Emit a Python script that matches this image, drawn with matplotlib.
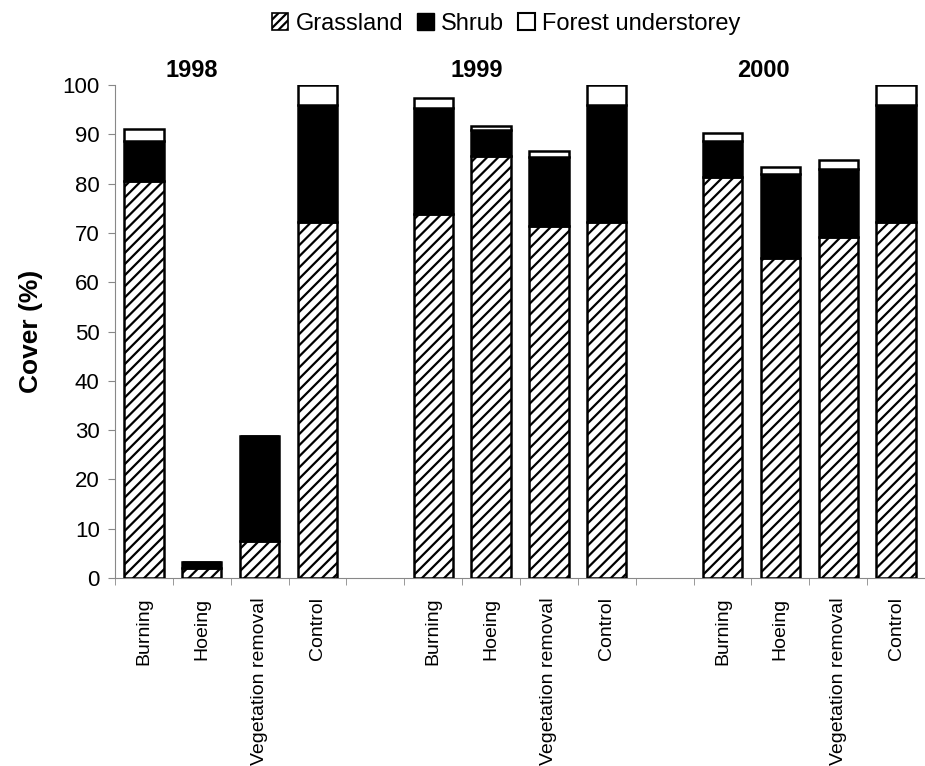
import numpy as np
import matplotlib
matplotlib.use("Agg")
import matplotlib.pyplot as plt
from matplotlib.patches import Patch

plt.rcParams['font.family'] = ['Liberation Sans', 'DejaVu Sans']
plt.rcParams['hatch.linewidth'] = 1.6

# data
years = ['1998', '1999', '2000']
treatments = ['Burning', 'Hoeing', 'Vegetation removal', 'Control']
grassland = [80.5, 2.1, 7.5, 72.3,
             73.8, 85.6, 71.5, 72.3,
             81.3, 65.0, 69.2, 72.3]
shrub = [8.1, 1.1, 21.3, 23.7,
         21.5, 5.3, 13.8, 23.7,
         7.3, 16.9, 13.8, 23.7]
forest = [2.5, 0.0, 0.0, 4.0,
          2.1, 0.8, 1.4, 4.0,
          1.6, 1.4, 1.8, 4.0]

# one empty slot between years
pos = []
for g in range(len(years)):
    for i in range(len(treatments)):
        pos.append(g * (len(treatments) + 1) + i)
pos = np.array(pos)
grassland = np.array(grassland)
shrub = np.array(shrub)
forest = np.array(forest)

fig = plt.figure(figsize=(9.25, 7.66), dpi=100)
ax = fig.add_axes([0.1243, 0.2454, 0.8757, 0.6436])

w = 0.68
ax.bar(pos, grassland, w, color='white', edgecolor='black', hatch='///', linewidth=1.8, zorder=3)
ax.bar(pos, shrub, w, bottom=grassland, color='black', edgecolor='black', linewidth=1.8, zorder=3)
ax.bar(pos, forest, w, bottom=grassland + shrub, color='white', edgecolor='black', linewidth=1.8, zorder=3)

ax.set_ylim(0, 100)
ax.set_xlim(-0.48, 13.25)
ax.set_yticks(range(0, 101, 10))
ax.tick_params(axis='y', labelsize=16, length=5, color='#888888', pad=6)

ax.set_xticks(pos)
ax.set_xticklabels(treatments * len(years), rotation=90, fontsize=14)
ax.tick_params(axis='x', which='major', length=0, pad=14)
bounds = []
for g in range(len(years)):
    for i in range(len(treatments) + 1):
        bounds.append(g * (len(treatments) + 1) + i - 0.5)
ax.set_xticks(sorted(set(bounds)), minor=True)
ax.tick_params(axis='x', which='minor', length=5, color='#888888')

for s in ['top', 'right']:
    ax.spines[s].set_visible(False)
for s in ['left', 'bottom']:
    ax.spines[s].set_color('#888888')
    ax.spines[s].set_linewidth(0.8)

ax.set_ylabel('Cover (%)', fontsize=19, fontweight='bold', labelpad=14)

# year titles above each group
year_x = [0.82, 5.75, 10.71]
for x, yr in zip(year_x, years):
    ax.text(x, 103.0, yr, ha='center', va='center', fontsize=17, fontweight='bold', clip_on=False)

handles = [Patch(facecolor='white', edgecolor='black', hatch='////', linewidth=1.2),
           Patch(facecolor='black', edgecolor='black'),
           Patch(facecolor='white', edgecolor='black', linewidth=1.5)]
fig.legend(handles, ['Grassland', 'Shrub', 'Forest understorey'], loc='center',
           bbox_to_anchor=(506 / 925, 1 - 24 / 766), ncol=3, frameon=False, fontsize=17,
           handlelength=0.7, handleheight=0.7, handletextpad=0.3, columnspacing=0.6)

plt.savefig('out.png', dpi=100)
